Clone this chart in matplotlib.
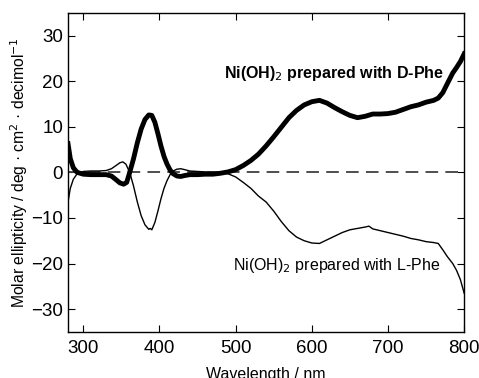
import numpy as np
import matplotlib.pyplot as plt

plt.rcParams['font.family'] = ['Liberation Sans', 'DejaVu Sans']

# D-Phe spectrum (thick line)
wl_d = [280, 283, 287, 292, 300, 310, 320, 330, 337, 343, 348, 353, 357, 361,
        366, 371, 376, 381, 386, 390, 394, 398, 402, 406, 410, 414, 418, 423,
        428, 433, 440, 450, 460, 470, 480, 490, 500, 510, 520, 530, 540, 550,
        560, 570, 580, 590, 600, 610, 620, 630, 640, 650, 660, 670, 680, 690,
        700, 710, 720, 730, 740, 750, 760, 766, 772, 778, 785, 790, 795, 800]
cd_d = [6.3, 3.0, 1.0, 0.0, -0.4, -0.5, -0.5, -0.5, -0.8, -1.6, -2.3, -2.6, -2.2, 0.0,
        3.0, 6.5, 9.5, 11.6, 12.6, 12.5, 11.0, 8.5, 5.8, 3.5, 1.8, 0.5, -0.3, -0.8,
        -0.9, -0.7, -0.5, -0.5, -0.4, -0.4, -0.2, 0.1, 0.6, 1.5, 2.6, 4.0, 5.8, 7.8,
        9.9, 12.0, 13.6, 14.8, 15.5, 15.8, 15.2, 14.2, 13.3, 12.5, 12.0, 12.3, 12.8, 12.8,
        12.9, 13.2, 13.8, 14.4, 14.8, 15.4, 15.8, 16.3, 17.5, 19.5, 21.8, 23.0, 24.3, 26.0]

# L-Phe spectrum (thin line)
wl_l = [280, 283, 287, 292, 300, 310, 320, 330, 337, 343, 348, 352, 356, 361,
        366, 371, 376, 381, 386, 388, 390, 394, 398, 402, 406, 410, 414, 418,
        423, 428, 433, 440, 450, 460, 470, 480, 490, 500, 510, 520, 530, 540,
        550, 560, 570, 580, 590, 600, 610, 620, 630, 640, 650, 660, 670, 675,
        680, 690, 700, 710, 720, 730, 740, 750, 760, 766, 772, 778, 785, 790, 795, 800]
cd_l = [-6.5, -3.5, -1.5, -0.3, 0.2, 0.3, 0.3, 0.4, 0.8, 1.5, 2.1, 2.3, 1.8, 0.0,
        -3.0, -6.5, -9.5, -11.5, -12.5, -12.3, -12.6, -11.0, -8.5, -5.8, -3.5, -1.8, -0.5, 0.3,
        0.7, 0.8, 0.6, 0.3, 0.2, 0.1, 0.0, -0.1, -0.3, -1.0, -2.2, -3.5, -5.2, -6.5,
        -8.5, -10.8, -12.8, -14.2, -15.0, -15.5, -15.6, -14.8, -14.0, -13.2, -12.6, -12.3, -12.0, -11.8,
        -12.4, -12.8, -13.2, -13.6, -14.0, -14.5, -14.8, -15.2, -15.4, -15.6, -17.0, -18.5, -20.0, -21.5, -23.5, -26.5]

xticks = [300, 400, 500, 600, 700, 800]
yticks = [-30, -20, -10, 0, 10, 20, 30]

fig = plt.figure(figsize=(4.79, 3.78), dpi=100)
ax = fig.add_axes([0.142, 0.122, 0.827, 0.844])

ax.axhline(0, color='#404040', lw=1.3, dashes=(7, 4))
ax.plot(wl_l, cd_l, color='black', lw=1.0)
ax.plot(wl_d, cd_d, color='black', lw=3.5)

ax.set_xlim(280, 800)
ax.set_ylim(-35, 35)
ax.set_xticks(xticks)
ax.set_yticks(yticks)
ax.tick_params(direction='in', top=True, right=True, length=5, labelsize=13.5)
ax.tick_params(axis='x', pad=6)
for s in ax.spines.values():
    s.set_linewidth(1.0)

ax.text(773, 21.8, 'Ni(OH)$_2$ prepared with D-Phe', fontsize=11.5, fontweight='bold',
        ha='right', va='center')
ax.text(768, -20.4, 'Ni(OH)$_2$ prepared with L-Phe', fontsize=11.5,
        ha='right', va='center')

ax.set_xlabel('Wavelength / nm', fontsize=11.5, labelpad=7)
ax.set_ylabel('Molar ellipticity / deg · cm$^2$ · decimol$^{-1}$', fontsize=11.3, labelpad=1)

plt.savefig('out.png', dpi=100)
